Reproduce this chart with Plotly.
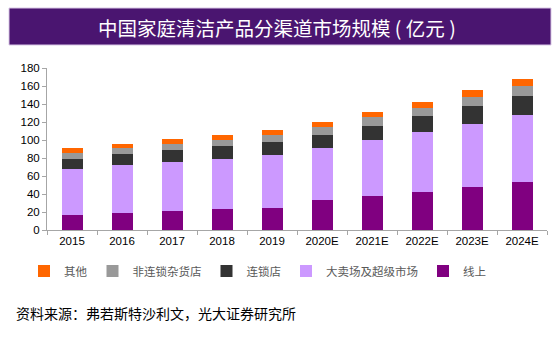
import plotly.graph_objects as go

categories = ["2015", "2016", "2017", "2018", "2019", "2020E", "2021E", "2022E", "2023E", "2024E"]
online = [16.3, 19.3, 21.2, 23.4, 24.9, 33.4, 37.9, 42.7, 47.5, 53.5]
hyper = [51.3, 52.7, 54.5, 55.7, 57.9, 57.2, 61.6, 65.7, 70.2, 74.2]
chain = [11.8, 12.3, 13.0, 13.7, 14.5, 15.2, 16.3, 18.2, 20.0, 21.5]
nonchain = [6.7, 7.0, 7.1, 7.4, 8.1, 8.2, 9.3, 9.3, 10.4, 11.2]
other = [4.5, 4.8, 5.2, 5.6, 5.6, 5.5, 5.6, 6.3, 7.1, 7.8]

series = [
    ("线上", online, "#800080"),
    ("大卖场及超级市场", hyper, "#CC99FF"),
    ("连锁店", chain, "#333333"),
    ("非连锁杂货店", nonchain, "#999999"),
    ("其他", other, "#FF6600"),
]

title_text = "中国家庭清洁产品分渠道市场规模 ( 亿元 )"
source_text = "资料来源：弗若斯特沙利文，光大证券研究所"

fig = go.Figure()
for name, vals, color in series:
    fig.add_trace(go.Bar(
        x=categories, y=vals, name=name,
        marker=dict(color=color, line=dict(width=0)),
    ))

W, H = 554, 338
L, R, T, B = 47, 7, 68, 108
pw, ph = W - L - R, H - T - B

def px_x(x):
    return (x - L) / pw

def px_y(y):
    return (H - B - y) / ph

fig.update_layout(
    width=W, height=H,
    margin=dict(l=L, r=R, t=T, b=B, pad=0),
    barmode="stack",
    bargap=0.58,
    plot_bgcolor="white",
    paper_bgcolor="white",
    font=dict(family="Liberation Sans, Arial, sans-serif", size=11, color="#000000"),
    showlegend=True,
    legend=dict(
        orientation="h",
        traceorder="reversed",
        x=px_x(24), xanchor="left",
        y=px_y(271), yanchor="middle",
        font=dict(family="Noto Sans CJK SC, sans-serif", size=11.5, color="#595959"),
        itemwidth=30,
        bgcolor="rgba(0,0,0,0)",
    ),
    xaxis=dict(
        type="category",
        showline=True, linecolor="#A6A6A6", linewidth=1,
        ticks="outside", tickson="boundaries", ticklen=4, tickcolor="#A6A6A6",
        showgrid=False, zeroline=False,
        tickfont=dict(family="Liberation Sans, Arial, sans-serif", size=11.5, color="#000000"),
    ),
    yaxis=dict(
        range=[0, 180], dtick=20,
        showline=True, linecolor="#A6A6A6", linewidth=1,
        ticks="outside", ticklen=4, tickcolor="#A6A6A6",
        showgrid=False, zeroline=False,
        tickfont=dict(family="Liberation Sans, Arial, sans-serif", size=11.5, color="#000000"),
    ),
    shapes=[
        dict(type="rect", xref="paper", yref="paper",
             x0=px_x(9), x1=px_x(551), y0=px_y(45), y1=px_y(8),
             fillcolor="#4A1570", line=dict(color="#D9C8E6", width=1), layer="above"),
    ],
    annotations=[
        dict(text=title_text, xref="paper", yref="paper",
             x=px_x(277), y=px_y(27), xanchor="center", yanchor="middle",
             showarrow=False,
             font=dict(family="Noto Sans CJK SC, sans-serif", size=19.5, color="#FFFFFF")),
        dict(text=source_text, xref="paper", yref="paper",
             x=px_x(14), y=px_y(313), xanchor="left", yanchor="middle",
             showarrow=False,
             font=dict(family="Noto Sans CJK SC, sans-serif", size=14, color="#000000")),
    ],
)

fig.write_html("out.html")
